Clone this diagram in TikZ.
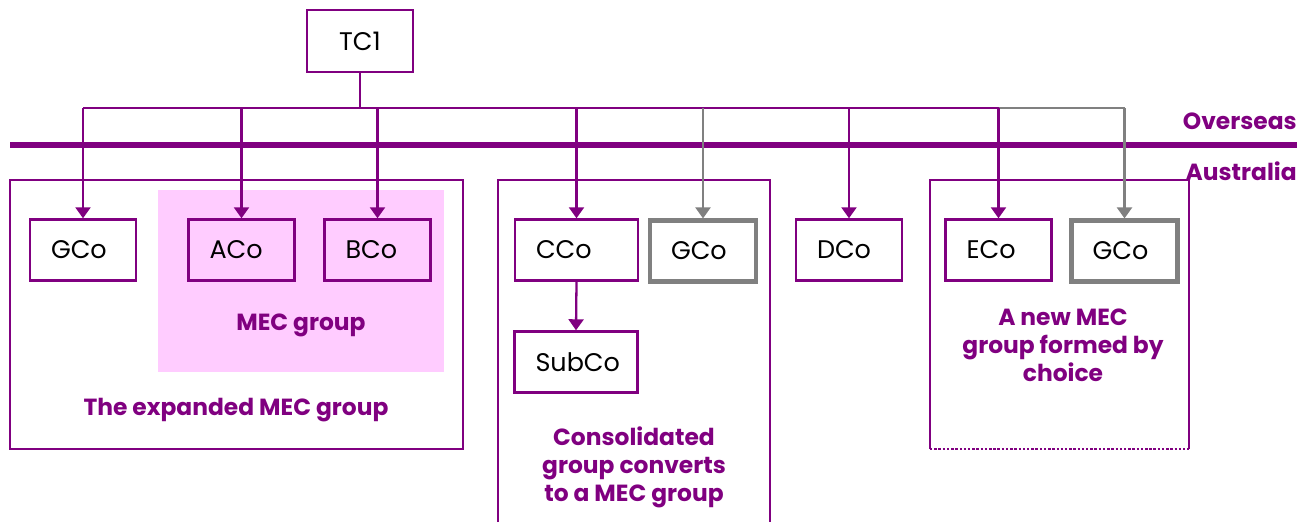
\documentclass[tikz,border=0pt]{standalone}
\usepackage{fontspec}
\setmainfont{Poppins}
\usepackage{tikz}
\usetikzlibrary{arrows.meta}
\definecolor{mecpurple}{HTML}{800080}
\definecolor{cogray}{HTML}{808080}
\definecolor{mecpink}{HTML}{FFCCFF}

\begin{document}
\begin{tikzpicture}[x=0.02cm,y=-0.02cm,
    cobox/.style={draw=mecpurple,line width=1.4pt,minimum height=1.22cm,text width=1.28cm,inner xsep=0.42cm,align=left,font=\fontsize{14.5}{16}\selectfont},
    widebox/.style={cobox,text width=1.62cm},
    graybox/.style={cobox,draw=cogray,line width=2.4pt},
    grouplabel/.style={text=mecpurple,align=center,font=\bfseries\fontsize{13.3}{16}\selectfont},
    link/.style={mecpurple,line width=1.3pt},
    graylink/.style={cogray,line width=1.3pt},
    tip/.style={-{Triangle[width=0.3cm,length=0.22cm]}}]
    \useasboundingbox (0,0) rectangle (1299,522);
    \fill[mecpink] (158,190) rectangle (444,372);
    \draw[mecpurple,line width=1.4pt] (10,180) rectangle (463,449);
    \draw[mecpurple,line width=1.4pt] (498,522) -- (498,180) -- (770,180) -- (770,522);
    \draw[mecpurple,line width=1.4pt] (930,449) -- (930,180) -- (1189,180) -- (1189,449);
    \draw[mecpurple,line width=1.4pt,densely dotted] (930,449) -- (1189,449);
    \draw[mecpurple,line width=3.6pt] (10,145) -- (1297,145);
    \node[anchor=east,inner xsep=0pt,grouplabel] (overseas) at (1297,121) {Overseas};
    \node[anchor=east,inner xsep=0pt,grouplabel] (australia) at (1297,171) {Australia};
    \node[cobox,text width=,align=center,minimum width=2.12cm,minimum height=1.24cm] (tc1) at (360,41) {TC1};
    \node[cobox] (gcoA) at (83,250) {GCo};
    \node[cobox] (aco) at (241.5,250) {ACo};
    \node[cobox] (bco) at (377.5,250) {BCo};
    \node[widebox] (cco) at (576.5,250) {CCo};
    \node[graybox] (gcoB) at (703,251) {GCo};
    \node[widebox] (subco) at (576,362) {SubCo};
    \node[cobox] (dco) at (849,250) {DCo};
    \node[cobox] (eco) at (998.5,250) {ECo};
    \node[graybox] (gcoC) at (1124.5,251) {GCo};
    \node[grouplabel] (mec) at (301,325) {MEC group};
    \node[grouplabel] (expanded) at (236,410) {The expanded MEC group};
    \node[grouplabel] (consol) at (634,467) {Consolidated\\group converts\\to a MEC group};
    \node[grouplabel] (choice) at (1063,345) {A new MEC\\group formed by\\choice};
    \coordinate (bus) at (360,108);
    \draw[link] (tc1.south) -- (bus);
    \draw[link] (gcoA.north |- bus) -- (eco.north |- bus);
    \draw[graylink] (eco.north |- bus) -- (gcoC.north |- bus);
    \draw[link,tip] (gcoA.north |- bus) -- (gcoA.north);
    \draw[link,tip] (aco.north |- bus) -- (aco.north);
    \draw[link,tip] (bco.north |- bus) -- (bco.north);
    \draw[link,tip] (cco.north |- bus) -- (cco.north);
    \draw[graylink,tip] (gcoB.north |- bus) -- (gcoB.north);
    \draw[link,tip] (dco.north |- bus) -- (dco.north);
    \draw[link,tip] (eco.north |- bus) -- (eco.north);
    \draw[graylink,tip] (gcoC.north |- bus) -- (gcoC.north);
    \draw[link,tip] (cco.south) -- (subco.north);
  \end{tikzpicture}
\end{document}
